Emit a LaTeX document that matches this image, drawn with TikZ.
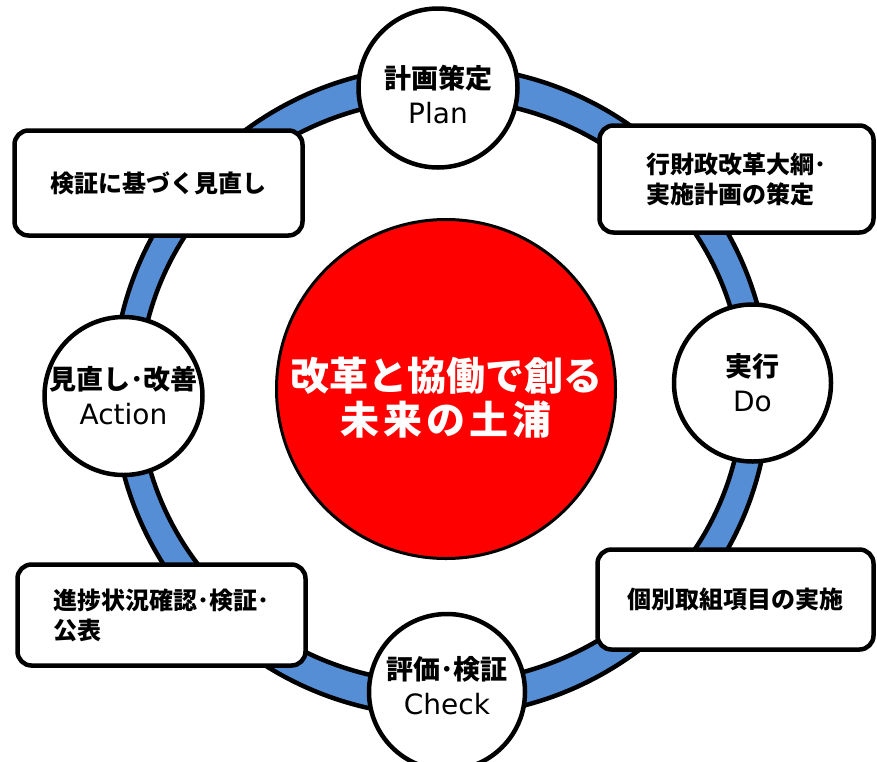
\documentclass[tikz,border=0pt]{standalone}
\usepackage{fontspec}
\newfontfamily\jp{Noto Sans CJK JP}
\newfontfamily\lat{DejaVu Sans}
\definecolor{ringblue}{HTML}{558ED5}
\definecolor{centerred}{HTML}{FF0000}
\tikzset{
  boxnode/.style={draw=black, line width=4.5pt, fill=white, rounded corners=14pt,
    inner sep=0pt, align=left, font=\jp\bfseries\fontsize{24}{30}\selectfont},
  stagenode/.style={draw=black, line width=4.5pt, fill=white, circle, inner sep=0pt},
  stagetext/.style={inner sep=0pt, align=center, font=\jp\fontsize{27}{35}\selectfont},
  corenode/.style={draw=black, line width=3pt, fill=centerred, circle, inner sep=0pt},
  coretext/.style={inner sep=0pt, align=center, text=white, font=\jp\bfseries\fontsize{39}{44}\selectfont}
}
\newcommand{\latin}[1]{{\lat\fontsize{28}{35}\selectfont #1}}
\begin{document}
\begin{tikzpicture}[x=1pt,y=-1pt]
\useasboundingbox (0,0) rectangle (877,761);
\coordinate (ringc) at (441,391);
\fill[ringblue, even odd rule] (ringc) ellipse[x radius=328pt, y radius=325pt]
      (ringc) ellipse[x radius=302pt, y radius=292pt];
\draw[black, line width=4.5pt] (ringc) ellipse[x radius=328pt, y radius=325pt];
\draw[black, line width=4.5pt] (ringc) ellipse[x radius=302pt, y radius=292pt];
% boxes
\node[boxnode, minimum width=288pt, minimum height=105pt] (review) at (158.5,183) {検証に基づく見直し};
\node[boxnode, minimum width=274pt, minimum height=107pt] (outline) at (736.5,179) {行財政改革大綱･\\実施計画の策定};
\node[boxnode, minimum width=288pt, minimum height=101pt] (progress) at (161.5,615) {進捗状況確認･検証･\\公表};
\node[boxnode, minimum width=276pt, minimum height=100pt] (items) at (735.5,599.5) {個別取組項目の実施};
% stage circles
\node[stagenode, minimum size=159pt] (plan) at (438,88) {};
\node[stagetext] (plantext) at ([yshift=-7pt]plan.center) {\textbf{計画策定}\\\latin{Plan}};
\node[stagenode, minimum size=157pt] (do) at (752.5,383) {};
\node[stagetext] (dotext) at (do.center) {\textbf{実行}\\\latin{Do}};
\node[stagenode, minimum size=158pt] (action) at (123.5,396) {};
\node[stagetext] (actiontext) at (action.center) {\textbf{見直し･改善}\\\latin{Action}};
\node[stagenode, minimum size=156pt] (check) at (447,692) {};
\node[stagetext] (checktext) at ([yshift=6pt]check.center) {\textbf{評価･検証}\\\latin{Check}};
% core
\node[corenode, minimum size=339pt] (core) at (446,389) {};
\node[coretext] (coretitle) at ([yshift=-9pt]core.center) {改革と協働で創る\\未\kern4pt 来\kern4pt の\kern4pt 土\kern4pt 浦};
\end{tikzpicture}
\end{document}
